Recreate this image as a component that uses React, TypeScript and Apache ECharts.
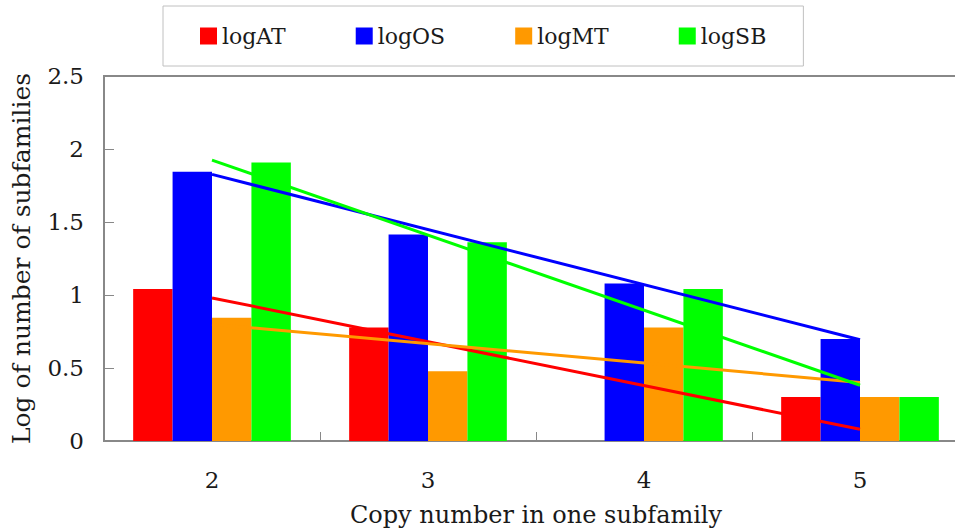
import React, { useEffect, useRef } from "react";
import * as echarts from "echarts";

// Copy-number categories on the x axis
const categories = ["2", "3", "4", "5"];

// log10 of the number of subfamilies per copy number
const logAT = [1.041, 0.778, 0, 0.301];
const logOS = [1.845, 1.415, 1.079, 0.699];
const logMT = [0.845, 0.477, 0.778, 0.301];
const logSB = [1.908, 1.362, 1.041, 0.301];

// Linear trend lines: values at the first and last category
const trendAT = [0.98, null, null, 0.08];
const trendOS = [1.826, null, null, 0.693];
const trendMT = [0.8, null, null, 0.401];
const trendSB = [1.924, null, null, 0.382];

const yTicks = [0, 0.5, 1, 1.5, 2, 2.5];

const FONT = "'DejaVu Serif', 'Liberation Serif', serif";
const TEXT = "#1a1a1a";
const AXIS = "#888888";

const seriesDefs = [
  { name: "logAT", color: "#FF0000", values: logAT, trend: trendAT },
  { name: "logOS", color: "#0000FF", values: logOS, trend: trendOS },
  { name: "logMT", color: "#FF9900", values: logMT, trend: trendMT },
  { name: "logSB", color: "#00FF00", values: logSB, trend: trendSB },
];

export default function App() {
  const ref = useRef<HTMLDivElement>(null);

  useEffect(() => {
    if (!ref.current) return;
    const chart = echarts.init(ref.current, undefined, { renderer: "svg" });

    const bars = seriesDefs.map((s) => ({
      name: s.name,
      type: "bar",
      data: s.values,
      barGap: "0%",
      barCategoryGap: "27%",
      itemStyle: { color: s.color },
      z: 2,
    }));

    const trends = seriesDefs.map((s) => ({
      name: s.name + " trend",
      type: "line",
      data: s.trend,
      connectNulls: true,
      symbol: "none",
      lineStyle: { color: s.color, width: 3 },
      z: 5,
    }));

    chart.setOption({
      animation: false,
      backgroundColor: "#ffffff",
      textStyle: { fontFamily: FONT, color: TEXT },
      legend: {
        data: seriesDefs.map((s) => s.name),
        left: 163,
        top: 6,
        orient: "horizontal",
        icon: "rect",
        itemWidth: 17,
        itemHeight: 17,
        itemGap: 70,
        padding: [19, 37, 19, 37],
        borderColor: "#c0c0c0",
        borderWidth: 1,
        textStyle: { fontFamily: FONT, fontSize: 22, color: TEXT },
      },
      grid: {
        left: 104,
        top: 76,
        width: 864,
        bottom: 88,
        show: true,
        borderColor: AXIS,
        borderWidth: 2,
        outerBoundsMode: "none",
      },
      xAxis: {
        type: "category",
        data: categories,
        name: "Copy number in one subfamily",
        nameLocation: "middle",
        nameGap: 62,
        nameTextStyle: { fontFamily: FONT, fontSize: 24, color: TEXT },
        axisLine: { show: true, lineStyle: { color: AXIS, width: 2 } },
        axisTick: { show: true, inside: true, length: 9, lineStyle: { color: AXIS, width: 1 } },
        axisLabel: { fontFamily: FONT, fontSize: 23, color: TEXT, margin: 27 },
        splitLine: { show: false },
      },
      yAxis: {
        type: "value",
        min: yTicks[0],
        max: yTicks[yTicks.length - 1],
        interval: 0.5,
        name: "Log of number of subfamilies",
        nameLocation: "middle",
        nameGap: 70,
        nameTextStyle: { fontFamily: FONT, fontSize: 25, color: TEXT },
        axisLine: { show: true, lineStyle: { color: AXIS, width: 2 } },
        axisTick: { show: true, inside: true, length: 10, lineStyle: { color: AXIS, width: 1 } },
        axisLabel: { fontFamily: FONT, fontSize: 23, color: TEXT, margin: 20 },
        splitLine: { show: false },
      },
      series: [...bars, ...trends],
    });

    return () => chart.dispose();
  }, []);

  return (
    <div
      style={{
        position: "fixed",
        left: 0,
        top: 0,
        width: 955,
        height: 529,
        overflow: "hidden",
        background: "#fff",
      }}
    >
      <div ref={ref} style={{ width: 955, height: 529 }} />
    </div>
  );
}
